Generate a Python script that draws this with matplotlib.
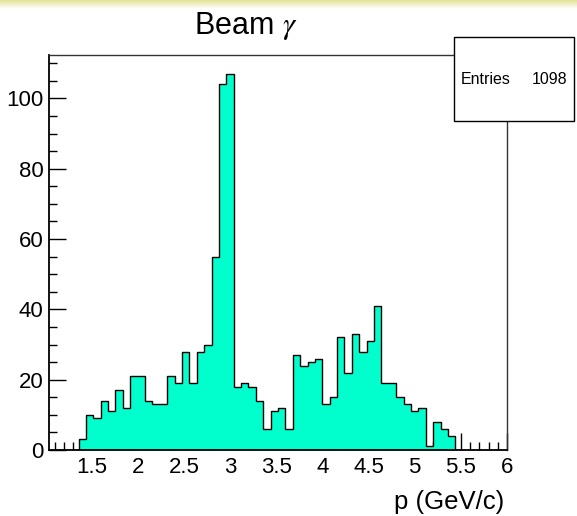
import numpy as np
import matplotlib
matplotlib.use("Agg")
import matplotlib.pyplot as plt
from matplotlib.patches import Rectangle
from matplotlib.ticker import MultipleLocator, FormatStrFormatter

plt.rcParams['font.family'] = ['Liberation Sans', 'DejaVu Sans']
plt.rcParams['mathtext.fontset'] = 'stix'

# ------------------------------------------------------------
# histogram contents : 62 bins of 0.08 GeV/c between 1.04 and 6.0
# ------------------------------------------------------------
x_min = 1.04
x_max = 6.0
n_bins = 62

counts = [0, 0, 0, 0,
          3, 10, 9, 14, 11, 17, 12, 21, 21, 14,
          13, 13, 21, 19, 28, 19, 28, 30, 55, 104,
          107, 18, 19, 18, 14, 6, 11, 12, 6, 27,
          24, 25, 26, 13, 15, 32, 22, 33, 28, 31,
          41, 19, 19, 15, 13, 11, 12, 1, 8, 6,
          4,
          0, 0, 0, 0, 0, 0, 0]

title = r"Beam $\gamma$"
x_title = "p (GeV/c)"

edges = np.linspace(x_min, x_max, n_bins + 1)
counts = np.array(counts)

# ------------------------------------------------------------
# canvas
# ------------------------------------------------------------
W, H = 577, 516
fig = plt.figure(figsize=(W / 100, H / 100), dpi=100)

# pale band across the top of the canvas
band = fig.add_axes([0, 1 - 9 / H, 1, 9 / H])
grad = np.linspace(0, 1, 50).reshape(-1, 1)
top_col = np.array([228, 226, 150]) / 255
rgb = top_col[None, None, :] * (1 - grad[:, :, None]) + np.ones(3)[None, None, :] * grad[:, :, None]
band.imshow(rgb, aspect='auto', extent=[0, 1, 0, 1])
band.axis('off')

ax = fig.add_axes([49 / W, (H - 450) / H, (507 - 49) / W, (450 - 55) / H])

ax.stairs(counts, edges, fill=True, color='#00ffcc', zorder=2)
ax.stairs(counts, edges, color='black', linewidth=1.0, zorder=3)

ax.set_xlim(x_min, x_max)
ax.set_ylim(0, counts.max() * 1.05)

ax.xaxis.set_major_locator(MultipleLocator(0.5))
ax.xaxis.set_minor_locator(MultipleLocator(0.1))
ax.xaxis.set_major_formatter(FormatStrFormatter('%g'))
ax.yaxis.set_major_locator(MultipleLocator(20))
ax.yaxis.set_minor_locator(MultipleLocator(5))

ax.tick_params(which='both', direction='in', top=False, right=False,
               labelsize=16, width=1.0)
ax.tick_params(which='major', length=12)
ax.tick_params(which='minor', length=6)
ax.tick_params(axis='y', pad=4)
ax.tick_params(axis='x', pad=5)

for side in ['left', 'bottom']:
    ax.spines[side].set_linewidth(1.3)
for side in ['top', 'right']:
    ax.spines[side].set_linewidth(1.0)
    ax.spines[side].set_color('#333333')

# titles
fig.text(246 / W, (H - 26) / H, title, ha='center', va='center', fontsize=22)
fig.text(504 / W, (H - 502) / H, x_title, ha='right', va='center', fontsize=18.5)

# statistics box
fig.patches.append(Rectangle((453.5 / W, (H - 120.5) / H), 120.5 / W, 83 / H,
                             transform=fig.transFigure, facecolor='white',
                             edgecolor='black', linewidth=1.0, zorder=5))
fig.text(460.5 / W, (H - 80) / H, "Entries", ha='left', va='center',
         fontsize=11.5, zorder=6)
fig.text(567.5 / W, (H - 80) / H, f"{counts.sum()}", ha='right', va='center',
         fontsize=11.5, zorder=6)

fig.savefig("out.png", dpi=100)
